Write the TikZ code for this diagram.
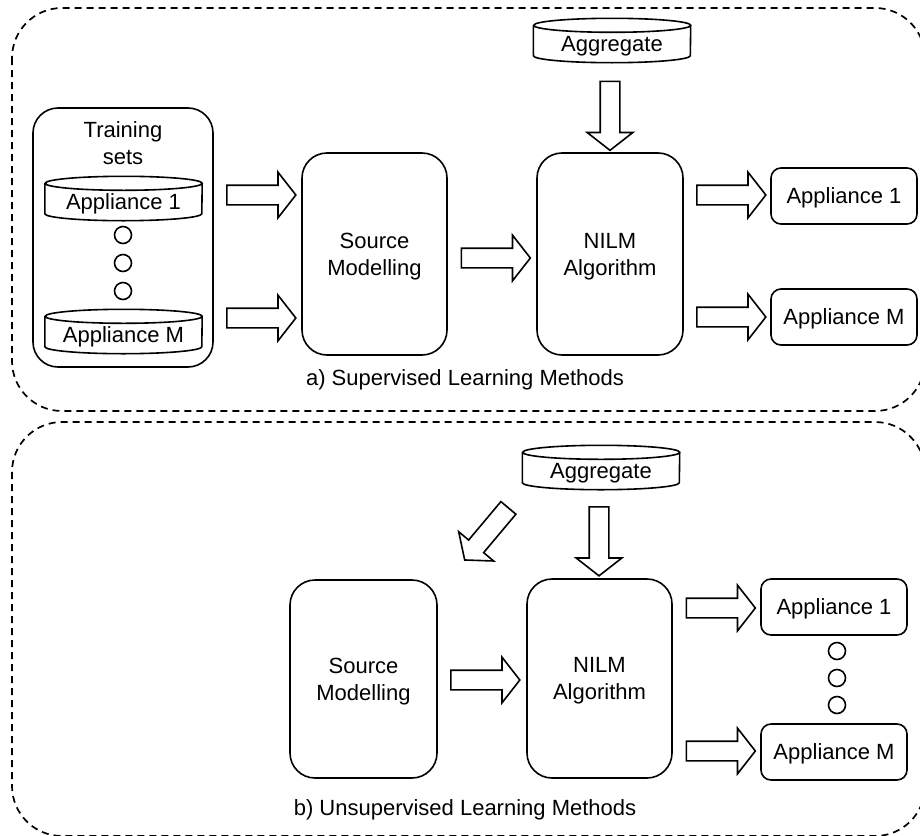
\documentclass[tikz,border=0pt]{standalone}
\usepackage{fontspec}
\setmainfont{Liberation Sans}
\usetikzlibrary{shapes.arrows}
\pgfdeclarelayer{edgelayer}
\pgfdeclarelayer{nodelayer}
\pgfsetlayers{edgelayer,nodelayer,main}
\tikzstyle{region}=[draw=black, line width=1.7pt, dash pattern=on 7pt off 5pt, rounded corners=50pt]
\tikzstyle{block}=[draw=black, line width=1.6pt, rounded corners=25pt, align=center, fill=white, text depth=0pt]
\tikzstyle{appbox}=[draw=black, line width=1.6pt, rounded corners=10pt, minimum width=146pt, minimum height=56pt, fill=white, text depth=0pt]
\tikzstyle{store}=[minimum width=157pt, minimum height=37pt, inner sep=0pt, text depth=0pt,
	append after command={\pgfextra{\draw [line width=1.6pt]
		(\tikzlastnode.north west) -- ([yshift=7pt]\tikzlastnode.south west)
		arc [start angle=180, end angle=360, x radius=78.5pt, y radius=7pt]
		-- (\tikzlastnode.north east)
		arc [start angle=0, end angle=360, x radius=78.5pt, y radius=7pt];}}]
\tikzstyle{dotnode}=[circle, draw=black, line width=1.6pt, minimum size=17pt, inner sep=0pt]
\tikzstyle{barrow}=[single arrow, draw=black, line width=1.6pt, fill=white, inner sep=9pt, minimum height=69pt, single arrow head extend=13pt, single arrow tip angle=104, single arrow head indent=0pt]

\begin{document}
\begin{tikzpicture}[x=1pt, y=-1pt, font=\fontsize{22}{27}\selectfont]
				\useasboundingbox (0, 0) rectangle (920, 835);
				\begin{pgfonlayer}{edgelayer}
					\draw [style=region] (12, 8) rectangle (925, 411);
					\draw [style=region] (12, 422) rectangle (925, 836);
				\end{pgfonlayer}
				\begin{pgfonlayer}{nodelayer}
					% a) supervised
					\node [style=block, minimum width=180pt, minimum height=259pt] (0) at (123, 237.5) {};
					\node (1) at (123, 143) [align=center] {Training\\sets};
					\node [style=store] (2) at (123.5, 202) {Appliance 1};
					\node [style=dotnode] (3) at (123, 235) {};
					\node [style=dotnode] (4) at (123, 263) {};
					\node [style=dotnode] (5) at (123, 291) {};
					\node [style=store] (6) at (123.5, 335) {Appliance M};
					\node [style=block, minimum width=145pt, minimum height=202pt] (7) at (374.5, 254) {Source\\Modelling};
					\node [style=block, minimum width=146pt, minimum height=202pt] (8) at (610, 254) {NILM\\Algorithm};
					\node [style=store] (9) at (612, 44) {Aggregate};
					\node [style=appbox] (10) at (844, 196) {Appliance 1};
					\node [style=appbox] (11) at (844, 317) {Appliance M};
					\node [style=barrow] (12) at (257.5, 195) {};
					\node [style=barrow] (13) at (257.5, 318) {};
					\node [style=barrow] (14) at (492, 258) {};
					\node [style=barrow, shape border rotate=270] (15) at (610, 112) {};
					\node [style=barrow] (16) at (727.5, 195) {};
					\node [style=barrow] (17) at (727.5, 317) {};
					\node (18) at (465, 380) {a) Supervised Learning Methods};
					% b) unsupervised
					\node [style=store] (19) at (601, 471) {Aggregate};
					\node [style=barrow, shape border rotate=270] (20) at (599, 537.5) {};
					\node [style=barrow, rotate=230, minimum height=68pt] (21) at (489, 531) {};
					\node [style=block, minimum width=147pt, minimum height=198pt] (22) at (363.5, 679) {Source\\Modelling};
					\node [style=block, minimum width=145pt, minimum height=199pt] (23) at (599.5, 678.5) {NILM\\Algorithm};
					\node [style=barrow] (24) at (481.5, 680) {};
					\node [style=barrow] (25) at (717, 608) {};
					\node [style=barrow] (26) at (717, 751) {};
					\node [style=appbox] (27) at (834, 607) {Appliance 1};
					\node [style=appbox] (28) at (834, 752) {Appliance M};
					\node [style=dotnode] (29) at (837, 651) {};
					\node [style=dotnode] (30) at (837, 678) {};
					\node [style=dotnode] (31) at (837, 705) {};
					\node (32) at (465, 810) {b) Unsupervised Learning Methods};
				\end{pgfonlayer}
			\end{tikzpicture}
\end{document}
